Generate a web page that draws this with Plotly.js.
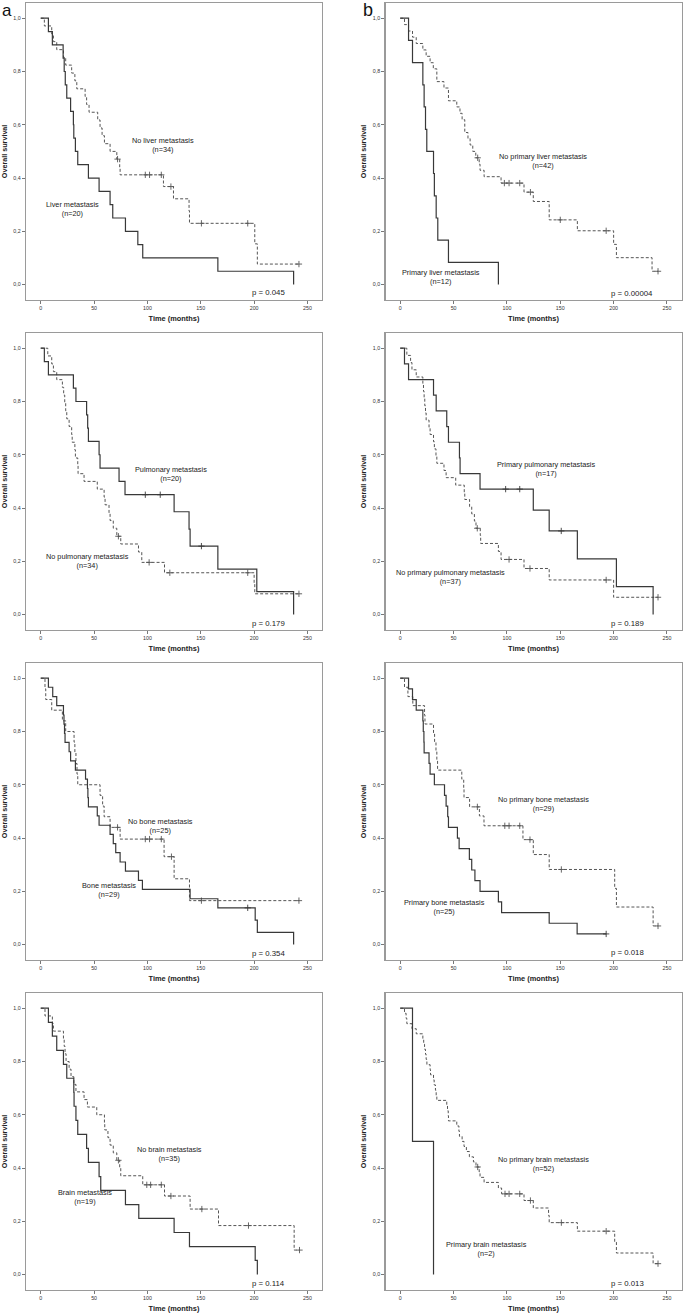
<!DOCTYPE html>
<html>
<head>
<meta charset="utf-8">
<script src="https://cdn.plot.ly/plotly-3.0.1.min.js"></script>
<style>html,body{margin:0;padding:0;background:#fff}#chart{width:685px;height:1316px}</style>
</head>
<body>
<div id="chart"></div>
<script>
// ---------- DATA (times in months, Kaplan-Meier survival) ----------
// Panel a1: liver
const liverT = [7.2,10.9,21,22,23,24.4,28,30.6,31,32.5,34.7,44.7,54.7,65,67.5,79.4,91,95.6,166,237];
const liverS = [0.95,0.90,0.85,0.80,0.75,0.70,0.65,0.60,0.55,0.50,0.45,0.40,0.35,0.30,0.25,0.20,0.15,0.10,0.05,0];
const liverCT = []; const liverCS = [];
const noLiverT = [3.4,10.3,11.9,15,21.3,23.4,29,32,33.8,41.6,43,45.3,53.4,55.6,57.5,59.7,65,71.3,74,74.4,115,124.4,139,139.4,200.6,203];
const noLiverS = [0.971,0.941,0.912,0.882,0.853,0.824,0.794,0.765,0.735,0.706,0.676,0.647,0.618,0.588,0.559,0.529,0.500,0.471,0.441,0.412,0.368,0.322,0.276,0.230,0.153,0.077];
const noLiverCT = [72,98,102,113,122,150.6,194,242];
const noLiverCS = [0.471,0.412,0.412,0.412,0.368,0.230,0.230,0.077];

// Panel b1: primary liver
const pLiverT = [7.8,11.5,21.2,22.4,23.7,24.9,31.2,32,33.7,35.2,45.2,92];
const pLiverS = [0.917,0.833,0.75,0.667,0.583,0.5,0.417,0.333,0.25,0.167,0.083,0];
const pLiverCT = []; const pLiverCS = [];
const noPLiverT = [4,7.8,11.5,15,21.2,24.3,28,31,34.3,41,45.2,53,56,58,60.5,63.5,65.5,68,70.8,74,74.8,78.6,94.5,116,124.7,139.6,166,200,202.6,236];
const noPLiverS = [0.976,0.952,0.929,0.905,0.881,0.857,0.833,0.810,0.762,0.738,0.690,0.667,0.643,0.619,0.571,0.548,0.524,0.500,0.476,0.452,0.429,0.405,0.381,0.347,0.312,0.243,0.202,0.151,0.101,0.050];
const noPLiverCT = [72.6,97.6,102,112,122,150,193,241.6];
const noPLiverCS = [0.476,0.381,0.381,0.381,0.347,0.243,0.202,0.050];

// Panel a2: pulmonary
const pulmT = [3.4,7.2,30.6,33,43,44,44.7,54.7,55.6,73.4,79,125,139,140,166,202.5,237];
const pulmS = [0.95,0.90,0.85,0.80,0.75,0.70,0.65,0.60,0.55,0.50,0.45,0.386,0.321,0.257,0.171,0.086,0];
const pulmCT = [98,112,150.6]; const pulmCS = [0.45,0.45,0.257];
const noPulmT = [6.6,10.3,11.9,15,20.3,21.5,22.5,23.4,24.4,26.6,29,29.5,32,32.5,34.7,35,40.6,53,59.4,60.3,64,65,68,71.3,75,91.6,94.7,116,200,200.6];
const noPulmS = [0.971,0.941,0.912,0.882,0.853,0.824,0.794,0.765,0.735,0.706,0.676,0.647,0.618,0.588,0.559,0.529,0.500,0.471,0.441,0.412,0.382,0.353,0.324,0.294,0.265,0.235,0.196,0.157,0.118,0.078];
const noPulmCT = [72.8,101.6,121,194,242]; const noPulmCS = [0.294,0.196,0.157,0.157,0.078];

// Panel b2: primary pulmonary
const pPulmT = [4,7.8,31.2,33.7,43.6,45.2,55.5,56.1,74.8,124.7,139.6,166,202.6,237];
const pPulmS = [0.941,0.882,0.824,0.765,0.706,0.647,0.588,0.529,0.471,0.392,0.314,0.209,0.105,0];
const pPulmCT = [98.8,112,150.9]; const pPulmCS = [0.471,0.471,0.314];
const noPPulmT = [6.2,9.7,11,15,21.2,21.8,22.4,23,23.7,24.3,27,28,31.2,32,33.5,34.3,41,43,52,60,60.5,65,67,69.5,71,75,75.4,92,94.5,116,139.6,200];
const noPPulmS = [0.973,0.946,0.919,0.892,0.865,0.838,0.811,0.784,0.757,0.730,0.703,0.676,0.649,0.622,0.595,0.568,0.541,0.514,0.486,0.459,0.432,0.405,0.378,0.351,0.324,0.297,0.267,0.237,0.207,0.173,0.130,0.065];
const noPPulmCT = [72.2,102,121.6,193,241.6]; const noPPulmCS = [0.324,0.207,0.173,0.130,0.065];

// Panel a3: bone
const boneT = [7.2,11.25,15,21.3,21.8,22.3,22.8,26.6,28,32.5,42,43.8,44.2,44.7,53,54.7,65,68,70.3,74.4,79.4,91.6,95.3,140,166,201,203,237];
const boneS = [0.966,0.931,0.897,0.862,0.828,0.793,0.759,0.724,0.690,0.655,0.621,0.586,0.552,0.517,0.483,0.448,0.414,0.379,0.345,0.310,0.276,0.241,0.207,0.172,0.138,0.092,0.046,0];
const boneCT = [194]; const boneCS = [0.138];
const noBoneT = [4,4.7,10.3,20.3,23.4,31.25,32,33,34,34.7,55.6,58,59.4,65,74.4,115.6,125,139.4];
const noBoneS = [0.96,0.92,0.88,0.84,0.80,0.76,0.72,0.68,0.64,0.60,0.56,0.52,0.48,0.44,0.396,0.33,0.247,0.165];
const noBoneCT = [72,98,102,113,122.5,150.6,242]; const noBoneCS = [0.44,0.396,0.396,0.396,0.33,0.165,0.165];

// Panel b3: primary bone
const pBoneT = [7.8,11.5,15,21.2,21.6,22.2,22.4,27,28,32,41.5,43,44.5,45.2,53.6,55.2,64.8,67,70,74.8,92,95,139.6,165.8];
const pBoneS = [0.96,0.92,0.88,0.84,0.80,0.76,0.72,0.68,0.64,0.60,0.56,0.52,0.48,0.44,0.40,0.36,0.32,0.28,0.24,0.20,0.16,0.12,0.08,0.04];
const pBoneCT = [193]; const pBoneCS = [0.04];
const noPBoneT = [4,7.2,11.8,22.8,23.2,31.2,32.2,33.5,34.3,35,57.7,59.5,59.8,65,74.2,78.5,115,124.7,139.6,201,202.6,237];
const noPBoneS = [0.966,0.931,0.897,0.862,0.828,0.793,0.759,0.724,0.690,0.655,0.621,0.586,0.552,0.517,0.483,0.446,0.394,0.338,0.282,0.211,0.141,0.070];
const noPBoneCT = [72.3,98,102,112,121.6,151,241.6]; const noPBoneCS = [0.517,0.446,0.446,0.446,0.394,0.282,0.070];

// Panel a4: brain
const brainT = [7.2,10.9,15,21.3,24.4,31,31.25,33,34.7,43,44.7,54.7,56.25,79.4,91.9,125,139.4,201,203];
const brainS = [0.947,0.895,0.842,0.789,0.737,0.684,0.632,0.579,0.526,0.474,0.421,0.368,0.316,0.263,0.211,0.158,0.105,0.053,0];
const brainCT = []; const brainCS = [];
const noBrainT = [4,10.9,11.9,21.3,22,22.8,23.75,26.6,28.4,31,33,40.6,43.75,52.5,59.7,60,63,65,68,71.3,74,75,95.6,116,140,166.6,237.5];
const noBrainS = [0.971,0.943,0.914,0.886,0.857,0.829,0.800,0.771,0.743,0.714,0.686,0.657,0.629,0.600,0.571,0.543,0.514,0.486,0.457,0.429,0.400,0.371,0.337,0.295,0.246,0.184,0.092];
const noBrainCT = [72.8,99.4,103,113,122,151,194.7,242.5]; const noBrainCS = [0.429,0.337,0.337,0.337,0.295,0.246,0.184,0.092];

// Panel b4: primary brain
const pBrainT = [11.5,31.2]; const pBrainS = [0.5,0];
const pBrainCT = []; const pBrainCS = [];
const noPBrainT = [4,5.5,6.2,11,15,21.2,22,22.8,23.7,24.3,25,28,28.4,31.2,31.8,33,33.7,34.3,43.6,44.3,45,45.2,53,55,55.5,58,59.8,62,64.8,68.6,71,74,74.8,78.6,92,95,116,124.7,139,139.6,166,201,202.6,237];
const noPBrainS = [0.981,0.962,0.942,0.923,0.904,0.885,0.865,0.846,0.827,0.808,0.788,0.769,0.750,0.731,0.712,0.692,0.673,0.654,0.635,0.615,0.596,0.577,0.558,0.538,0.519,0.500,0.481,0.462,0.442,0.423,0.404,0.385,0.365,0.346,0.325,0.303,0.278,0.250,0.222,0.195,0.163,0.122,0.081,0.041];
const noPBrainCT = [72.6,98.2,102,112,122,151,193,241.6]; const noPBrainCS = [0.404,0.303,0.303,0.303,0.278,0.195,0.163,0.041];

// Labels
const panelLetters = ['a','b'];
const solidLabels = ['Liver metastasis<br>(n=20)','Primary liver metastasis<br>(n=12)','Pulmonary metastasis<br>(n=20)','Primary pulmonary metastasis<br>(n=17)','Bone metastasis<br>(n=29)','Primary bone metastasis<br>(n=25)','Brain metastasis<br>(n=19)','Primary brain metastasis<br>(n=2)'];
const dashedLabels = ['No liver metastasis<br>(n=34)','No primary liver metastasis<br>(n=42)','No pulmonary metastasis<br>(n=34)','No primary pulmonary metastasis<br>(n=37)','No bone metastasis<br>(n=25)','No primary bone metastasis<br>(n=29)','No brain metastasis<br>(n=35)','No primary brain metastasis<br>(n=52)'];
const pValues = ['p = 0.045','p = 0.00004','p = 0.179','p = 0.189','p = 0.354','p = 0.018','p = 0.114','p = 0.013'];
const xTickVals = [0,50,100,150,200,250];
const xTickText = ['0','50','100','150','200','250'];
const yTickVals = [0,0.2,0.4,0.6,0.8,1.0];
const yTickText = ['0,0','0,2','0,4','0,6','0,8','1,0'];

// ---------- LAYOUT ----------
const W = 685, H = 1316;
const panels = [
  {solid:[liverT,liverS,liverCT,liverCS], dashed:[noLiverT,noLiverS,noLiverCT,noLiverCS], sPos:[30,0.284], dPos:[114.4,0.524], pPos:[213.4,-0.028]},
  {solid:[pLiverT,pLiverS,pLiverCT,pLiverCS], dashed:[noPLiverT,noPLiverS,noPLiverCT,noPLiverCS], sPos:[38,0.028], dPos:[134,0.464], pPos:[217,-0.034]},
  {solid:[pulmT,pulmS,pulmCT,pulmCS], dashed:[noPulmT,noPulmS,noPulmCT,noPulmCS], sPos:[121.9,0.526], dPos:[44,0.200], pPos:[213.4,-0.034]},
  {solid:[pPulmT,pPulmS,pPulmCT,pPulmCS], dashed:[noPPulmT,noPPulmS,noPPulmCT,noPPulmCS], sPos:[137,0.548], dPos:[46.8,0.1425], pPos:[212.6,-0.034]},
  {solid:[boneT,boneS,boneCT,boneCS], dashed:[noBoneT,noBoneS,noBoneCT,noBoneCS], sPos:[64,0.2055], dPos:[111.9,0.4445], pPos:[213.4,-0.034]},
  {solid:[pBoneT,pBoneS,pBoneCT,pBoneCS], dashed:[noPBoneT,noPBoneS,noPBoneCT,noPBoneCS], sPos:[41.5,0.1395], dPos:[134.4,0.5275], pPos:[212.6,-0.031]},
  {solid:[brainT,brainS,brainCT,brainCS], dashed:[noBrainT,noBrainS,noBrainCT,noBrainCS], sPos:[41.6,0.292], dPos:[121,0.454], pPos:[213.4,-0.034]},
  {solid:[pBrainT,pBrainS,pBrainCT,pBrainCS], dashed:[noPBrainT,noPBrainS,noPBrainCT,noPBrainCS], sPos:[80.7,0.0955], dPos:[134.4,0.4155], pPos:[212.6,-0.034]}
];

const FONT = 'Liberation Sans, Arial, Helvetica, sans-serif';
const SOLIDC = '#383838', DASHC = '#555555', FRAMEC = '#9a9a9a';
const traces = [];
const layout = {
  width: W, height: H, margin:{l:0,r:0,t:0,b:0},
  paper_bgcolor:'#fff', plot_bgcolor:'#fff', showlegend:false,
  font:{family:FONT, color:'#222'}, annotations:[]
};

function curve(data, xa, ya, dashed) {
  const [T,S,CT,CS] = data;
  const x = [0].concat(T), y = [1].concat(S);
  const lastC = CT.length ? Math.max.apply(null, CT) : -Infinity;
  if (lastC > x[x.length-1]) { x.push(lastC); y.push(y[y.length-1]); }
  const c = dashed ? DASHC : SOLIDC;
  traces.push({type:'scatter', mode:'lines', x:x, y:y, xaxis:xa, yaxis:ya,
    line:{shape:'hv', color:c, width: dashed ? 1 : 1.2, dash: dashed ? '3px,2px' : 'solid'},
    hoverinfo:'skip'});
  if (CT.length) {
    traces.push({type:'scatter', mode:'markers', x:CT, y:CS, xaxis:xa, yaxis:ya,
      marker:{symbol:'cross-thin', size:4.5, color:c, line:{color:c, width:0.9}}, hoverinfo:'skip'});
  }
}

panels.forEach((p, i) => {
  const col = i % 2, row = Math.floor(i / 2);
  const n = i + 1;
  const xa = n === 1 ? 'x' : 'x' + n, ya = n === 1 ? 'y' : 'y' + n;
  const xk = n === 1 ? 'xaxis' : 'xaxis' + n, yk = n === 1 ? 'yaxis' : 'yaxis' + n;
  const left = col === 0 ? 26 : 385.5, right = col === 0 ? 322 : 681.5;
  const top = 3.3 + 330 * row, bottom = 299.5 + 330 * row;
  layout[xk] = {domain:[left / W, right / W], anchor: ya, range:[-13.8, 263.6],
    showgrid:false, zeroline:false, showline:true, mirror:true, linecolor:FRAMEC, linewidth:1.2,
    ticks:'outside', ticklen:3, tickwidth:0.8, tickcolor:'#555', tickvals:xTickVals, ticktext:xTickText,
    tickfont:{size:5.3, color:'#333', family:FONT},
    title:{text:'<b>Time (months)</b>', font:{size:7.4, color:'#222', family:FONT}, standoff:5}};
  layout[yk] = {domain:[1 - bottom / H, 1 - top / H], anchor: xa, range:[-0.056, 1.056],
    showgrid:false, zeroline:false, showline:true, mirror:true, linecolor:FRAMEC, linewidth:1.2,
    ticks:'outside', ticklen:3, tickwidth:0.8, tickcolor:'#555', tickvals:yTickVals, ticktext:yTickText,
    tickfont:{size:5.3, color:'#333', family:FONT},
    title:{text:'<b>Overall survival</b>', font:{size:7.2, color:'#222', family:FONT}, standoff:5}};
  curve(p.dashed, xa, ya, true);
  curve(p.solid, xa, ya, false);
  const af = {size:7.3, color:'#222', family:FONT};
  layout.annotations.push({xref:xa, yref:ya, x:p.sPos[0], y:p.sPos[1], text:solidLabels[i], showarrow:false, font:af, align:'center'});
  layout.annotations.push({xref:xa, yref:ya, x:p.dPos[0], y:p.dPos[1], text:dashedLabels[i], showarrow:false, font:af, align:'center'});
  layout.annotations.push({xref:xa, yref:ya, x:p.pPos[0], y:p.pPos[1], text:pValues[i], showarrow:false, font:{size:7.8, color:'#222', family:FONT}});
});

layout.annotations.push({xref:'paper', yref:'paper', x:7/W, y:1 - 10.5/H, text:panelLetters[0], showarrow:false, font:{size:17, color:'#111', family:FONT}, xanchor:'center', yanchor:'middle'});
layout.annotations.push({xref:'paper', yref:'paper', x:368/W, y:1 - 10/H, text:panelLetters[1], showarrow:false, font:{size:18, color:'#111', family:FONT}, xanchor:'center', yanchor:'middle'});

Plotly.newPlot('chart', traces, layout, {staticPlot:true, displayModeBar:false});
</script>
</body>
</html>
